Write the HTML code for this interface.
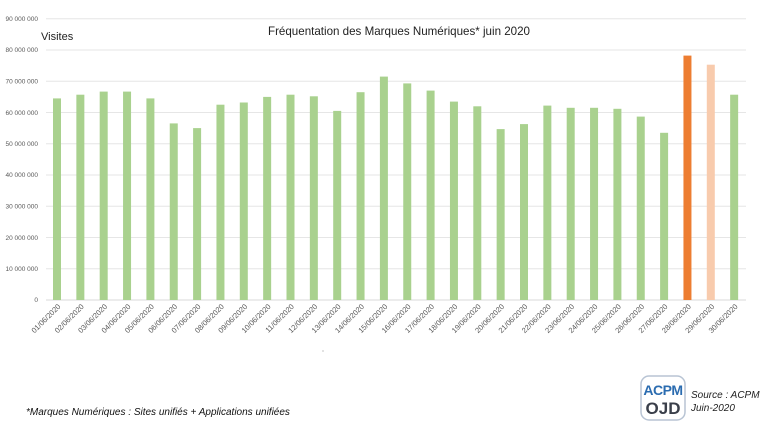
<!DOCTYPE html>
<html><head><meta charset="utf-8"><style>
html,body{margin:0;padding:0;background:#fff;}
svg{display:block;font-family:"Liberation Sans",sans-serif;}
</style></head><body>
<svg width="770" height="428" viewBox="0 0 770 428" xmlns="http://www.w3.org/2000/svg">
<g stroke="#e6e6e6" stroke-width="1">
<line x1="46" x2="746" y1="18.75" y2="18.75"/>
<line x1="46" x2="746" y1="50" y2="50"/>
<line x1="46" x2="746" y1="81.25" y2="81.25"/>
<line x1="46" x2="746" y1="112.5" y2="112.5"/>
<line x1="46" x2="746" y1="143.75" y2="143.75"/>
<line x1="46" x2="746" y1="175" y2="175"/>
<line x1="46" x2="746" y1="206.25" y2="206.25"/>
<line x1="46" x2="746" y1="237.5" y2="237.5"/>
<line x1="46" x2="746" y1="268.75" y2="268.75"/>
<line x1="46" x2="746" y1="300" y2="300" stroke="#d9d9d9"/>
</g>
<g font-size="6.5" fill="#595959" text-anchor="end">
<text x="38" y="21">90 000 000</text>
<text x="38" y="52">80 000 000</text>
<text x="38" y="83.5">70 000 000</text>
<text x="38" y="115">60 000 000</text>
<text x="38" y="146">50 000 000</text>
<text x="38" y="177">40 000 000</text>
<text x="38" y="208.5">30 000 000</text>
<text x="38" y="240">20 000 000</text>
<text x="38" y="271">10 000 000</text>
<text x="38" y="302">0</text>
</g>
<text x="41" y="40" font-size="11" fill="#222">Visites</text>
<text x="399" y="35" font-size="12" fill="#222" text-anchor="middle" textLength="262" lengthAdjust="spacingAndGlyphs">Fréquentation des Marques Numériques* juin 2020</text>
<g fill="#a9d18e">
<rect x="53" y="98.4" width="8" height="201.6"/>
<rect x="76.35" y="94.7" width="8" height="205.3"/>
<rect x="99.7" y="91.6" width="8" height="208.4"/>
<rect x="123.05" y="91.6" width="8" height="208.4"/>
<rect x="146.4" y="98.4" width="8" height="201.6"/>
<rect x="169.75" y="123.4" width="8" height="176.6"/>
<rect x="193.1" y="128.1" width="8" height="171.9"/>
<rect x="216.45" y="104.7" width="8" height="195.3"/>
<rect x="239.8" y="102.5" width="8" height="197.5"/>
<rect x="263.15" y="96.9" width="8" height="203.1"/>
<rect x="286.5" y="94.7" width="8" height="205.3"/>
<rect x="309.85" y="96.3" width="8" height="203.7"/>
<rect x="333.2" y="110.9" width="8" height="189.1"/>
<rect x="356.55" y="92.2" width="8" height="207.8"/>
<rect x="379.9" y="76.6" width="8" height="223.4"/>
<rect x="403.25" y="83.4" width="8" height="216.6"/>
<rect x="426.6" y="90.6" width="8" height="209.4"/>
<rect x="449.95" y="101.6" width="8" height="198.4"/>
<rect x="473.3" y="106.3" width="8" height="193.7"/>
<rect x="496.65" y="129.1" width="8" height="170.9"/>
<rect x="520" y="124.1" width="8" height="175.9"/>
<rect x="543.35" y="105.6" width="8" height="194.4"/>
<rect x="566.7" y="107.8" width="8" height="192.2"/>
<rect x="590.05" y="107.8" width="8" height="192.2"/>
<rect x="613.4" y="108.8" width="8" height="191.2"/>
<rect x="636.75" y="116.6" width="8" height="183.4"/>
<rect x="660.1" y="132.8" width="8" height="167.2"/>
<rect x="730.15" y="94.7" width="8" height="205.3"/>
</g>
<rect x="683.45" y="55.6" width="8" height="244.4" fill="#ed7d31"/>
<rect x="706.8" y="64.7" width="8" height="235.3" fill="#f8cbad"/>
<g font-size="7.5" fill="#595959" text-anchor="end">
<text transform="translate(61,307) rotate(-45)">01/06/2020</text>
<text transform="translate(84.35,307) rotate(-45)">02/06/2020</text>
<text transform="translate(107.7,307) rotate(-45)">03/06/2020</text>
<text transform="translate(131.05,307) rotate(-45)">04/06/2020</text>
<text transform="translate(154.4,307) rotate(-45)">05/06/2020</text>
<text transform="translate(177.75,307) rotate(-45)">06/06/2020</text>
<text transform="translate(201.1,307) rotate(-45)">07/06/2020</text>
<text transform="translate(224.45,307) rotate(-45)">08/06/2020</text>
<text transform="translate(247.8,307) rotate(-45)">09/06/2020</text>
<text transform="translate(271.15,307) rotate(-45)">10/06/2020</text>
<text transform="translate(294.5,307) rotate(-45)">11/06/2020</text>
<text transform="translate(317.85,307) rotate(-45)">12/06/2020</text>
<text transform="translate(341.2,307) rotate(-45)">13/06/2020</text>
<text transform="translate(364.55,307) rotate(-45)">14/06/2020</text>
<text transform="translate(387.9,307) rotate(-45)">15/06/2020</text>
<text transform="translate(411.25,307) rotate(-45)">16/06/2020</text>
<text transform="translate(434.6,307) rotate(-45)">17/06/2020</text>
<text transform="translate(457.95,307) rotate(-45)">18/06/2020</text>
<text transform="translate(481.3,307) rotate(-45)">19/06/2020</text>
<text transform="translate(504.65,307) rotate(-45)">20/06/2020</text>
<text transform="translate(528,307) rotate(-45)">21/06/2020</text>
<text transform="translate(551.35,307) rotate(-45)">22/06/2020</text>
<text transform="translate(574.7,307) rotate(-45)">23/06/2020</text>
<text transform="translate(598.05,307) rotate(-45)">24/06/2020</text>
<text transform="translate(621.4,307) rotate(-45)">25/06/2020</text>
<text transform="translate(644.75,307) rotate(-45)">26/06/2020</text>
<text transform="translate(668.1,307) rotate(-45)">27/06/2020</text>
<text transform="translate(691.45,307) rotate(-45)">28/06/2020</text>
<text transform="translate(714.8,307) rotate(-45)">29/06/2020</text>
<text transform="translate(738.15,307) rotate(-45)">30/06/2020</text>
</g>
<circle cx="323" cy="351" r="0.6" fill="#999"/>
<text x="26" y="415" font-size="10" font-style="italic" fill="#111">*Marques Numériques : Sites unifiés + Applications unifiées</text>
<rect x="641" y="376" width="44" height="44" rx="8" fill="#fff" stroke="#b8c4d4" stroke-width="1.5"/>
<text x="663" y="395" font-size="14" font-weight="bold" fill="#2b6cb0" text-anchor="middle" letter-spacing="-0.5">ACPM</text>
<text x="663" y="414" font-size="17" font-weight="bold" fill="#3a3f4a" text-anchor="middle">OJD</text>
<text x="691" y="398" font-size="10" font-style="italic" fill="#222">Source : ACPM</text>
<text x="691" y="411" font-size="10" font-style="italic" fill="#222">Juin-2020</text>
</svg>
</body></html>
